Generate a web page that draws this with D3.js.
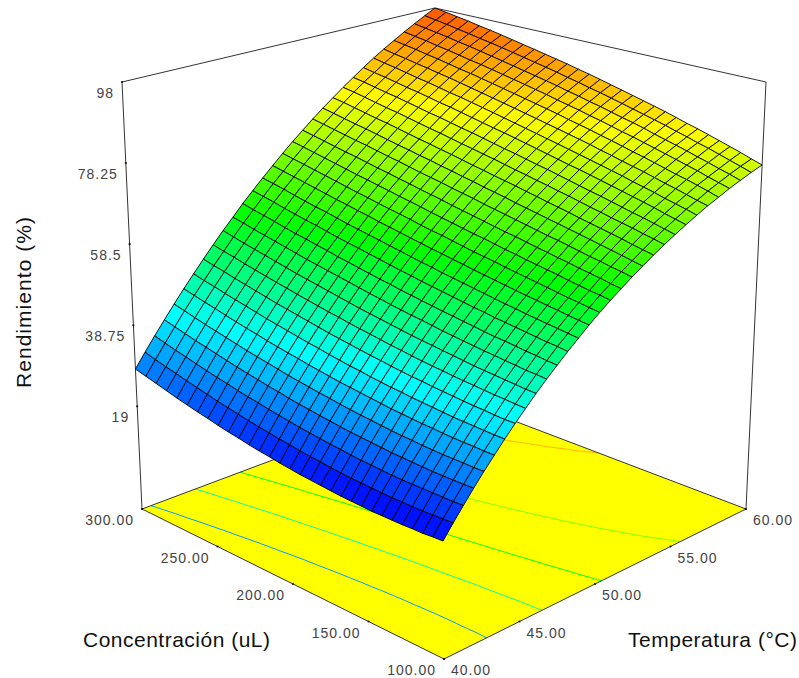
<!DOCTYPE html>
<html lang="en">

<head>
    <meta charset="UTF-8">
    <title>Rendimiento</title>
    <script src="https://d3js.org/d3.v7.min.js"></script>
    <style>
        body {
            margin: 0;
            background: white;
        }

        text {
            font-family: "Liberation Sans", sans-serif;
        }

        .tick_label {
            font-size: 14px;
            letter-spacing: 1px;
            fill: #444;
        }

        .axis_title {
            font-size: 21px;
            fill: #111;
        }
    </style>
</head>

<body>
    <svg id="svg_surface" width="799" height="678"></svg>
    <script>
        // Axis ticks as labelled in the chart
        let concTicks = [100, 150, 200, 250, 300]
        let tempTicks = [40, 45, 50, 55, 60]
        let yieldTicks = [19, 38.75, 58.5, 78.25, 98]
        let contourLevels = [31, 44.6, 57, 70, 89]
        // Heights where the surface turns blue, cyan, green, yellow, red
        let colorStops = [19, 38.75, 58.5, 82, 106]

        // Rendimiento: rows go 100 -> 300 uL, columns 40 -> 60 C
        let yieldGrid = [
            [19.2, 22.1, 24.9, 27.7, 30.4, 33.0, 35.6, 38.1, 40.5, 42.9, 45.2, 47.4, 49.6, 51.7, 53.8, 55.8, 57.7, 59.5, 61.3, 63.0, 64.7, 66.3, 67.8, 69.3, 70.7, 72.1, 73.3, 74.6, 75.7, 76.8, 77.8],
            [19.1, 22.0, 24.8, 27.6, 30.3, 33.0, 35.6, 38.1, 40.6, 43.0, 45.4, 47.6, 49.9, 52.0, 54.1, 56.1, 58.1, 59.9, 61.8, 63.5, 65.2, 66.9, 68.4, 69.9, 71.4, 72.7, 74.1, 75.3, 76.5, 77.6, 78.6],
            [18.9, 21.9, 24.8, 27.6, 30.4, 33.1, 35.7, 38.2, 40.8, 43.2, 45.5, 47.9, 50.1, 52.3, 54.4, 56.5, 58.4, 60.4, 62.2, 64.0, 65.7, 67.4, 69.0, 70.5, 72.0, 73.4, 74.8, 76.0, 77.2, 78.4, 79.5],
            [18.9, 21.8, 24.8, 27.6, 30.4, 33.1, 35.8, 38.4, 40.9, 43.4, 45.8, 48.1, 50.4, 52.6, 54.8, 56.8, 58.8, 60.8, 62.7, 64.5, 66.3, 68.0, 69.6, 71.2, 72.6, 74.1, 75.5, 76.8, 78.0, 79.2, 80.3],
            [18.8, 21.8, 24.8, 27.6, 30.4, 33.2, 35.9, 38.5, 41.1, 43.6, 46.0, 48.4, 50.7, 52.9, 55.1, 57.2, 59.2, 61.2, 63.1, 65.0, 66.8, 68.5, 70.1, 71.8, 73.3, 74.7, 76.1, 77.5, 78.7, 80.0, 81.1],
            [18.8, 21.8, 24.8, 27.7, 30.5, 33.3, 36.0, 38.7, 41.3, 43.8, 46.3, 48.7, 51.0, 53.2, 55.5, 57.6, 59.7, 61.7, 63.6, 65.5, 67.3, 69.0, 70.7, 72.4, 73.9, 75.4, 76.8, 78.2, 79.5, 80.7, 81.9],
            [18.8, 21.8, 24.8, 27.8, 30.6, 33.5, 36.2, 38.9, 41.5, 44.0, 46.5, 48.9, 51.3, 53.6, 55.8, 58.0, 60.1, 62.1, 64.1, 66.0, 67.8, 69.6, 71.3, 73.0, 74.5, 76.1, 77.5, 78.9, 80.2, 81.5, 82.7],
            [18.8, 21.9, 24.9, 27.9, 30.8, 33.6, 36.4, 39.1, 41.7, 44.3, 46.8, 49.2, 51.6, 53.9, 56.2, 58.4, 60.5, 62.6, 64.6, 66.5, 68.3, 70.1, 71.9, 73.6, 75.2, 76.7, 78.2, 79.6, 80.9, 82.2, 83.4],
            [18.9, 22.0, 25.0, 28.0, 30.9, 33.8, 36.6, 39.3, 42.0, 44.6, 47.1, 49.6, 52.0, 54.3, 56.6, 58.8, 60.9, 63.0, 65.0, 67.0, 68.9, 70.7, 72.4, 74.2, 75.8, 77.3, 78.8, 80.3, 81.6, 83.0, 84.2],
            [19.0, 22.1, 25.2, 28.2, 31.1, 34.0, 36.8, 39.6, 42.2, 44.9, 47.4, 49.9, 52.3, 54.7, 57.0, 59.2, 61.4, 63.5, 65.5, 67.5, 69.4, 71.3, 73.0, 74.8, 76.4, 78.0, 79.5, 81.0, 82.4, 83.7, 85.0],
            [19.1, 22.2, 25.3, 28.4, 31.3, 34.2, 37.1, 39.8, 42.5, 45.2, 47.7, 50.3, 52.7, 55.1, 57.4, 59.7, 61.8, 64.0, 66.0, 68.0, 69.9, 71.8, 73.6, 75.4, 77.0, 78.6, 80.2, 81.6, 83.1, 84.4, 85.7],
            [19.3, 22.4, 25.5, 28.6, 31.6, 34.5, 37.3, 40.1, 42.8, 45.5, 48.1, 50.6, 53.1, 55.5, 57.8, 60.1, 62.3, 64.4, 66.5, 68.5, 70.5, 72.4, 74.2, 75.9, 77.6, 79.3, 80.8, 82.3, 83.7, 85.1, 86.4],
            [19.5, 22.6, 25.8, 28.8, 31.8, 34.8, 37.6, 40.4, 43.2, 45.8, 48.5, 51.0, 53.5, 55.9, 58.3, 60.5, 62.8, 64.9, 67.0, 69.0, 71.0, 72.9, 74.8, 76.5, 78.2, 79.9, 81.5, 83.0, 84.4, 85.8, 87.1],
            [19.7, 22.9, 26.0, 29.1, 32.1, 35.1, 37.9, 40.8, 43.5, 46.2, 48.8, 51.4, 53.9, 56.3, 58.7, 61.0, 63.2, 65.4, 67.5, 69.6, 71.6, 73.5, 75.3, 77.1, 78.8, 80.5, 82.1, 83.6, 85.1, 86.5, 87.8],
            [19.9, 23.1, 26.3, 29.4, 32.4, 35.4, 38.3, 41.1, 43.9, 46.6, 49.2, 51.8, 54.3, 56.8, 59.2, 61.5, 63.7, 65.9, 68.0, 70.1, 72.1, 74.0, 75.9, 77.7, 79.4, 81.1, 82.7, 84.3, 85.7, 87.2, 88.5],
            [20.2, 23.4, 26.6, 29.7, 32.8, 35.7, 38.6, 41.5, 44.3, 47.0, 49.6, 52.2, 54.8, 57.2, 59.6, 62.0, 64.2, 66.4, 68.6, 70.6, 72.6, 74.6, 76.5, 78.3, 80.0, 81.7, 83.4, 84.9, 86.4, 87.8, 89.2],
            [20.5, 23.8, 26.9, 30.1, 33.1, 36.1, 39.0, 41.9, 44.7, 47.4, 50.1, 52.7, 55.2, 57.7, 60.1, 62.4, 64.7, 66.9, 69.1, 71.2, 73.2, 75.2, 77.0, 78.9, 80.6, 82.3, 84.0, 85.5, 87.0, 88.5, 89.9],
            [20.9, 24.1, 27.3, 30.4, 33.5, 36.5, 39.4, 42.3, 45.1, 47.8, 50.5, 53.1, 55.7, 58.2, 60.6, 62.9, 65.2, 67.5, 69.6, 71.7, 73.7, 75.7, 77.6, 79.5, 81.2, 82.9, 84.6, 86.2, 87.7, 89.1, 90.5],
            [21.2, 24.5, 27.7, 30.8, 33.9, 36.9, 39.9, 42.7, 45.6, 48.3, 51.0, 53.6, 56.2, 58.7, 61.1, 63.5, 65.8, 68.0, 70.2, 72.3, 74.3, 76.3, 78.2, 80.0, 81.8, 83.5, 85.2, 86.8, 88.3, 89.8, 91.2],
            [21.6, 24.9, 28.1, 31.3, 34.3, 37.4, 40.3, 43.2, 46.0, 48.8, 51.5, 54.1, 56.7, 59.2, 61.6, 64.0, 66.3, 68.5, 70.7, 72.8, 74.9, 76.8, 78.8, 80.6, 82.4, 84.1, 85.8, 87.4, 88.9, 90.4, 91.8],
            [22.1, 25.3, 28.6, 31.7, 34.8, 37.8, 40.8, 43.7, 46.5, 49.3, 52.0, 54.6, 57.2, 59.7, 62.1, 64.5, 66.8, 69.1, 71.2, 73.4, 75.4, 77.4, 79.3, 81.2, 83.0, 84.7, 86.4, 88.0, 89.5, 91.0, 92.4],
            [22.5, 25.8, 29.0, 32.2, 35.3, 38.3, 41.3, 44.2, 47.0, 49.8, 52.5, 55.1, 57.7, 60.2, 62.7, 65.0, 67.4, 69.6, 71.8, 73.9, 76.0, 78.0, 79.9, 81.8, 83.6, 85.3, 87.0, 88.6, 90.1, 91.6, 93.0],
            [23.0, 26.3, 29.5, 32.7, 35.8, 38.8, 41.8, 44.7, 47.5, 50.3, 53.0, 55.7, 58.2, 60.7, 63.2, 65.6, 67.9, 70.2, 72.4, 74.5, 76.5, 78.5, 80.5, 82.4, 84.2, 85.9, 87.6, 89.2, 90.7, 92.2, 93.6],
            [23.6, 26.8, 30.1, 33.2, 36.3, 39.4, 42.3, 45.2, 48.1, 50.8, 53.5, 56.2, 58.8, 61.3, 63.8, 66.1, 68.5, 70.7, 72.9, 75.0, 77.1, 79.1, 81.0, 82.9, 84.7, 86.5, 88.2, 89.8, 91.3, 92.8, 94.2],
            [24.1, 27.4, 30.6, 33.8, 36.9, 39.9, 42.9, 45.8, 48.6, 51.4, 54.1, 56.8, 59.4, 61.9, 64.3, 66.7, 69.0, 71.3, 73.5, 75.6, 77.7, 79.7, 81.6, 83.5, 85.3, 87.1, 88.7, 90.3, 91.9, 93.4, 94.8],
            [24.7, 28.0, 31.2, 34.4, 37.5, 40.5, 43.5, 46.4, 49.2, 52.0, 54.7, 57.3, 59.9, 62.4, 64.9, 67.3, 69.6, 71.9, 74.1, 76.2, 78.3, 80.3, 82.2, 84.1, 85.9, 87.6, 89.3, 90.9, 92.5, 93.9, 95.4],
            [25.3, 28.6, 31.8, 35.0, 38.1, 41.1, 44.1, 47.0, 49.8, 52.6, 55.3, 57.9, 60.5, 63.0, 65.5, 67.9, 70.2, 72.4, 74.6, 76.8, 78.8, 80.8, 82.8, 84.6, 86.4, 88.2, 89.9, 91.5, 93.0, 94.5, 95.9],
            [26.0, 29.3, 32.5, 35.6, 38.7, 41.8, 44.7, 47.6, 50.4, 53.2, 55.9, 58.6, 61.1, 63.6, 66.1, 68.5, 70.8, 73.0, 75.2, 77.3, 79.4, 81.4, 83.3, 85.2, 87.0, 88.7, 90.4, 92.0, 93.6, 95.0, 96.5],
            [26.7, 29.9, 33.1, 36.3, 39.4, 42.4, 45.4, 48.3, 51.1, 53.8, 56.5, 59.2, 61.8, 64.3, 66.7, 69.1, 71.4, 73.6, 75.8, 77.9, 80.0, 82.0, 83.9, 85.8, 87.6, 89.3, 91.0, 92.6, 94.1, 95.6, 97.0],
            [27.4, 30.6, 33.8, 37.0, 40.1, 43.1, 46.0, 48.9, 51.7, 54.5, 57.2, 59.8, 62.4, 64.9, 67.3, 69.7, 72.0, 74.2, 76.4, 78.5, 80.6, 82.6, 84.5, 86.3, 88.1, 89.8, 91.5, 93.1, 94.6, 96.1, 97.5],
            [28.1, 31.4, 34.6, 37.7, 40.8, 43.8, 46.7, 49.6, 52.4, 55.2, 57.8, 60.5, 63.0, 65.5, 67.9, 70.3, 72.6, 74.8, 77.0, 79.1, 81.1, 83.1, 85.0, 86.9, 88.7, 90.4, 92.0, 93.6, 95.1, 96.6, 98.0]
        ]

        let nConc = yieldGrid.length
        let nTemp = yieldGrid[0].length

        let conc = d3.scaleLinear().domain([100, 300]).range([0, 1])
        let temp = d3.scaleLinear().domain([40, 60]).range([0, 1])
        let height = d3.scaleLinear().domain([-6, 98]).range([0, 1])
        let color = d3.scaleLinear()
            .domain(colorStops)
            .range(["#0000ff", "#00ffff", "#00ff00", "#ffff00", "#ff0000"])
            .clamp(true)

        // The eight corners of the plot box on screen
        let floor = { front: [444, 659], left: [142, 509], right: [746, 509], back: [446, 395] }
        let roof = { front: [440, 172], left: [122, 82], right: [766, 82], back: [435, 8] }

        function corner(box, s, t, k) {
            return (1 - s) * ((1 - t) * box.front[k] + t * box.right[k])
                + s * ((1 - t) * box.left[k] + t * box.back[k])
        }

        // s: concentration 0..1, t: temperature 0..1, h: height 0..1
        function project(s, t, h) {
            return [0, 1].map(k => (1 - h) * corner(floor, s, t, k) + h * corner(roof, s, t, k))
        }

        let svg = d3.select("#svg_surface")
        let line = d3.line()

        // floor
        svg.append("polygon")
            .attr("points", [project(0, 0, 0), project(1, 0, 0), project(1, 1, 0), project(0, 1, 0)].join(" "))
            .attr("fill", "#ffff00")

        // contours on the floor, from the same grid
        let contours = d3.contours()
            .size([nTemp, nConc])
            .thresholds(contourLevels)(yieldGrid.flat())

        contours.forEach(c => {
            c.coordinates.forEach(poly => poly.forEach(ring => {
                let piece = []
                let flush = () => {
                    if (piece.length > 1) {
                        svg.append("path")
                            .attr("d", line(piece))
                            .attr("fill", "none")
                            .attr("stroke", color(c.value))
                            .attr("stroke-width", 1)
                    }
                    piece = []
                }
                ring.forEach(p => {
                    if (p[0] <= 0 || p[0] >= nTemp || p[1] <= 0 || p[1] >= nConc) {
                        flush()
                    } else {
                        piece.push(project((p[1] - 0.5) / (nConc - 1), (p[0] - 0.5) / (nTemp - 1), 0))
                    }
                })
                flush()
            }))
        })

        // box frame
        let frame = [
            [project(1, 0, 0), project(0, 0, 0), project(0, 1, 0), project(1, 1, 0), project(1, 0, 0)],
            [project(1, 0, 0), project(1, 0, 1), project(1, 1, 1), project(0, 1, 1), project(0, 1, 0)]
        ]
        svg.selectAll(".frame")
            .data(frame)
            .enter()
            .append("path")
            .attr("class", "frame")
            .attr("d", line)
            .attr("fill", "none")
            .attr("stroke", "#333")
            .attr("stroke-width", 1)

        // surface cells, painted from the back corner to the front one
        let cells = []
        for (let i = nConc - 2; i >= 0; i--) {
            for (let j = nTemp - 2; j >= 0; j--) {
                cells.push([[i, j], [i + 1, j], [i + 1, j + 1], [i, j + 1]])
            }
        }
        svg.selectAll(".cell")
            .data(cells)
            .enter()
            .append("polygon")
            .attr("class", "cell")
            .attr("points", d => d.map(n => project(n[0] / (nConc - 1), n[1] / (nTemp - 1), height(yieldGrid[n[0]][n[1]]))).join(" "))
            .attr("fill", d => color(d3.mean(d, n => yieldGrid[n[0]][n[1]])))
            .attr("stroke", "#000")
            .attr("stroke-width", 0.9)

        // tick marks and labels, offset the same way on all three axes
        function addTicks(ticks, place, anchor, dx, fmt) {
            ticks.forEach(v => {
                let p = place(v)
                svg.append("circle")
                    .attr("cx", p[0]).attr("cy", p[1]).attr("r", 1.1)
                    .attr("fill", "#111")
                svg.append("text")
                    .attr("class", "tick_label")
                    .attr("x", p[0] + dx)
                    .attr("y", p[1] + 16)
                    .attr("text-anchor", anchor)
                    .text(fmt(v))
            })
        }
        addTicks(concTicks, v => project(conc(v), 0, 0), "end", -8, d3.format(".2f"))
        addTicks(tempTicks, v => project(0, temp(v), 0), "start", 7, d3.format(".2f"))
        addTicks(yieldTicks, v => project(1, 0, height(v)), "end", -8, String)

        // axis titles
        svg.append("text").attr("class", "axis_title")
            .attr("x", 83).attr("y", 647)
            .attr("textLength", 187)
            .text("Concentración (uL)")
        svg.append("text").attr("class", "axis_title")
            .attr("x", 628).attr("y", 647)
            .attr("textLength", 169)
            .text("Temperatura (°C)")
        svg.append("text").attr("class", "axis_title")
            .attr("transform", "translate(31,388) rotate(-90)")
            .attr("textLength", 171)
            .text("Rendimiento (%)")
    </script>
</body>

</html>
